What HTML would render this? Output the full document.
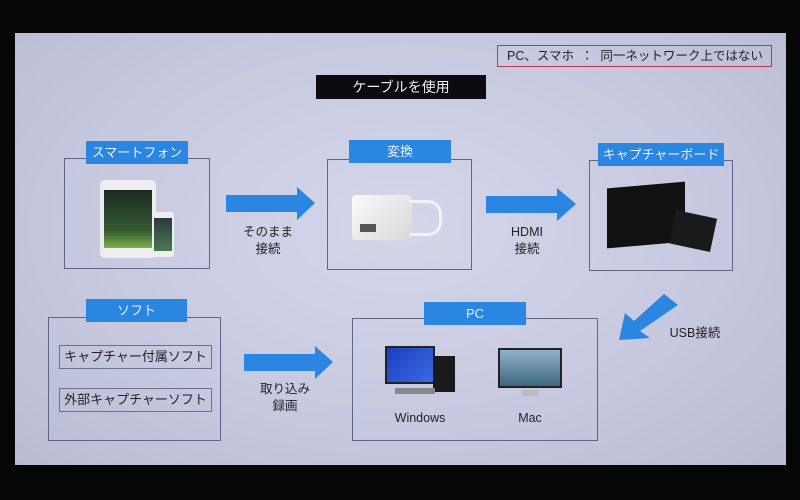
<!DOCTYPE html>
<html><head><meta charset="utf-8"><style>
*{margin:0;padding:0;box-sizing:border-box}
body{width:800px;height:500px;background:#060606;position:relative;overflow:hidden;font-family:"Liberation Sans","Noto Sans CJK JP",sans-serif}
.slide{position:absolute;left:15px;top:33px;width:771px;height:432px;background:radial-gradient(ellipse at 50% 45%,#d4d6ea 0%,#c6c8df 60%,#b9bbd3 100%)}
.a{position:absolute}
.box{position:absolute;border:1px solid #5d6688}
.lbl{position:absolute;background:#2a86e0;color:#e8f0ff;font-size:13px;text-align:center;line-height:23px}
.t{position:absolute;color:#222;font-size:12.5px;text-align:center;line-height:17px}
</style></head><body>
<div class="slide"></div>
<div class="a" style="left:497px;top:45px;width:275px;height:22px;border:1px solid #c0364a;font-size:12.5px;line-height:20px;color:#222;padding-left:9px">PC、スマホ&nbsp; ：&nbsp; 同一ネットワーク上ではない</div>
<div class="a" style="left:316px;top:75px;width:170px;height:24px;background:#0c0c10;color:#eee;font-size:14px;text-align:center;line-height:24px">ケーブルを使用</div>

<div class="box" style="left:64px;top:158px;width:146px;height:111px"></div>
<div class="lbl" style="left:86px;top:141px;width:102px">スマートフォン</div>
<div class="a" style="left:100px;top:180px;width:56px;height:78px;background:#eee;border-radius:5px"></div>
<div class="a" style="left:104px;top:190px;width:48px;height:58px;background:linear-gradient(#1a2a20,#355a30 70%,#7ab24a)"></div>
<div class="a" style="left:152px;top:212px;width:22px;height:45px;background:#eee;border-radius:3px"></div>
<div class="a" style="left:154px;top:218px;width:18px;height:33px;background:linear-gradient(#2a3a40,#4a7a50)"></div>

<svg class="a" style="left:0;top:0" width="800" height="500">
<polygon points="226,195 297,195 297,187 315,203 297,220 297,212 226,212" fill="#2a86e0"/>
<polygon points="486,196 557,196 557,188 576,204 557,221 557,213 486,213" fill="#2a86e0"/>
<polygon points="244,354 315,354 315,346 333,362 315,379 315,371 244,371" fill="#2a86e0"/>
<polygon points="664,294 678,305 640,331 650,338 619,340 625,313 634,321" fill="#2a86e0"/>
</svg>
<div class="t" style="left:228px;top:224px;width:80px">そのまま<br>接続</div>

<div class="box" style="left:327px;top:159px;width:145px;height:111px"></div>
<div class="lbl" style="left:349px;top:140px;width:102px">変換</div>
<div class="a" style="left:352px;top:195px;width:60px;height:45px;background:linear-gradient(135deg,#fafafa,#d8d8d8);border-radius:4px"></div>
<div class="a" style="left:360px;top:224px;width:16px;height:8px;background:#555"></div>
<div class="a" style="left:410px;top:200px;width:32px;height:36px;border:3px solid #f2f2f2;border-left:none;border-radius:0 14px 14px 0"></div>
<div class="t" style="left:487px;top:224px;width:80px">HDMI<br>接続</div>

<div class="box" style="left:589px;top:160px;width:144px;height:111px"></div>
<div class="lbl" style="left:598px;top:143px;width:126px">キャプチャーボード</div>
<div class="a" style="left:607px;top:185px;width:78px;height:60px;background:#111;transform:skewY(-5deg)"></div>
<div class="a" style="left:672px;top:214px;width:42px;height:34px;background:#1a1a1a;transform:rotate(12deg)"></div>

<div class="box" style="left:48px;top:317px;width:173px;height:124px"></div>
<div class="lbl" style="left:86px;top:299px;width:101px">ソフト</div>
<div class="a" style="left:59px;top:345px;width:153px;height:24px;border:1px solid #6a7090;font-size:13px;text-align:center;line-height:22px;color:#222">キャプチャー付属ソフト</div>
<div class="a" style="left:59px;top:388px;width:153px;height:24px;border:1px solid #6a7090;font-size:13px;text-align:center;line-height:22px;color:#222">外部キャプチャーソフト</div>
<div class="t" style="left:245px;top:381px;width:80px">取り込み<br>録画</div>

<div class="box" style="left:352px;top:318px;width:246px;height:123px"></div>
<div class="lbl" style="left:424px;top:302px;width:102px">PC</div>
<div class="a" style="left:385px;top:346px;width:50px;height:38px;background:linear-gradient(135deg,#1c3fc0,#3a6ae0);border:2px solid #222"></div>
<div class="a" style="left:433px;top:356px;width:22px;height:36px;background:#1a1a1a"></div>
<div class="a" style="left:395px;top:388px;width:40px;height:6px;background:#888"></div>
<div class="a" style="left:498px;top:348px;width:64px;height:40px;background:linear-gradient(#8fb2c8,#3f6680);border:2px solid #222"></div>
<div class="a" style="left:522px;top:390px;width:16px;height:6px;background:#bbb"></div>
<div class="t" style="left:380px;top:410px;width:80px">Windows</div>
<div class="t" style="left:490px;top:410px;width:80px">Mac</div>
<div class="t" style="left:655px;top:325px;width:80px">USB接続</div>
</body></html>
